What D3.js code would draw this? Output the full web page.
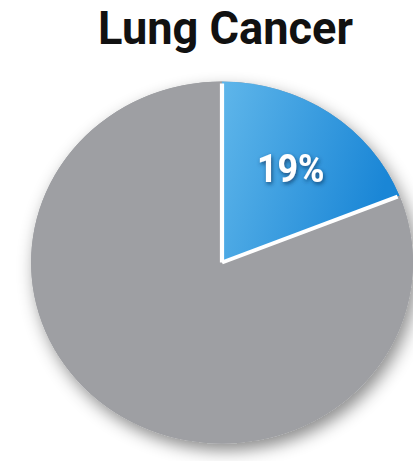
<!DOCTYPE html>
<html><head><meta charset="utf-8">
<script src="https://cdn.jsdelivr.net/npm/d3@7"></script>
<style>html,body{margin:0;padding:0;background:#fff;}svg{display:block;}</style>
</head><body>
<script>
const title = "Lung Cancer";
const categories = ["Lung Cancer", "Other"];
const values = [19, 81];
const labels = ["19%", ""];

const W = 413, H = 461;
const cx = 222, cy = 262.5, r = 181, sx = 1.055;
const svg = d3.select("body").append("svg").attr("width", W).attr("height", H);
const defs = svg.append("defs");
const f = defs.append("filter").attr("id","sh").attr("x","-30%").attr("y","-30%").attr("width","160%").attr("height","160%");
f.append("feDropShadow").attr("dx",4).attr("dy",7).attr("stdDeviation",8).attr("flood-color","#000").attr("flood-opacity",0.45);
const g1 = defs.append("linearGradient").attr("id","bl").attr("x1","0").attr("y1","0").attr("x2","1").attr("y2","0.3");
g1.append("stop").attr("offset","0").attr("stop-color","#5fb6ea");
g1.append("stop").attr("offset","1").attr("stop-color","#1a86d6");
const tf = defs.append("filter").attr("id","ts").attr("x","-20%").attr("y","-20%").attr("width","140%").attr("height","140%");
tf.append("feDropShadow").attr("dx",1).attr("dy",2).attr("stdDeviation",2).attr("flood-color","#08365e").attr("flood-opacity",0.8);

svg.append("text").attr("x", 225.5).attr("y", 44).attr("text-anchor","middle")
  .attr("font-family","Roboto,'DejaVu Sans Condensed',sans-serif")
  .attr("font-weight","bold").attr("font-size",46).attr("fill","#111")
  .attr("textLength",255).attr("lengthAdjust","spacingAndGlyphs").text(title);

const pie = d3.pie().sort(null).value(d => d);
const arcs = pie(values);
const arc = d3.arc().innerRadius(0).outerRadius(r);
const colors = d3.scaleOrdinal().domain(categories).range(["url(#bl)", "#9e9fa3"]);

const g = svg.append("g").attr("transform", `translate(${cx},${cy}) scale(${sx},1)`);
g.append("circle").attr("r", r).attr("fill","#9e9fa3").attr("filter","url(#sh)");
g.selectAll("path.s").data(arcs).enter().append("path").attr("class","s")
  .attr("d", arc).attr("fill", (d,i) => colors(categories[i]));
const sepR = r - 2;
const radial = a => [Math.sin(a)*sepR, -Math.cos(a)*sepR];
g.selectAll("line.sep").data([arcs[0].startAngle, arcs[0].endAngle]).enter().append("line")
  .attr("x1",0).attr("y1",0).attr("x2", d => radial(d)[0]).attr("y2", d => radial(d)[1])
  .attr("stroke","#fff").attr("stroke-width",4);

const lab = d3.arc().innerRadius(r*0.64).outerRadius(r*0.64);
g.selectAll("text.l").data(arcs).enter().append("text").attr("class","l")
  .attr("transform", d => { const c = lab.centroid(d); return `translate(${c[0]},${c[1]})`; })
  .attr("text-anchor","middle").attr("dy","0.4em")
  .attr("font-family","Roboto,'DejaVu Sans Condensed',sans-serif")
  .attr("font-weight","bold").attr("font-size",38).attr("fill","#fff").attr("filter","url(#ts)")
  .attr("textLength",(d,i) => labels[i] ? 64 : null).attr("lengthAdjust","spacingAndGlyphs")
  .text((d,i) => labels[i]);
</script>
</body></html>
